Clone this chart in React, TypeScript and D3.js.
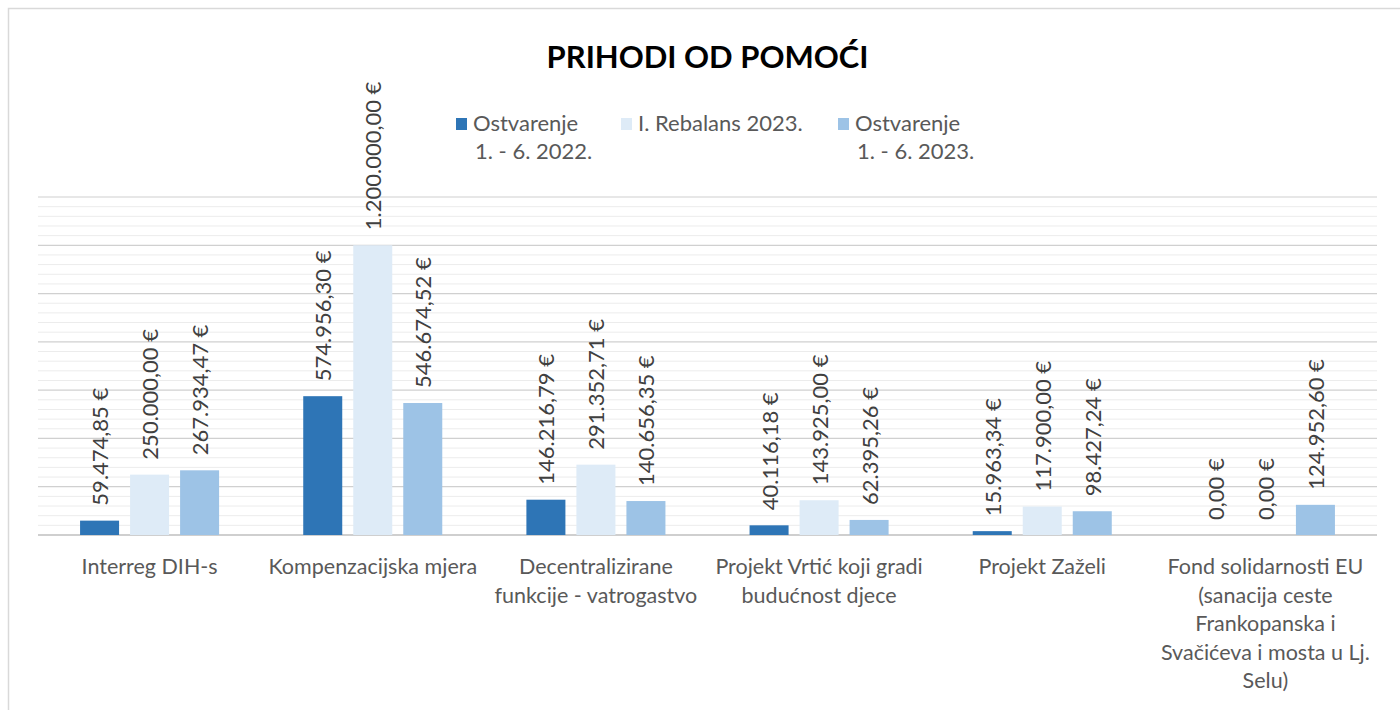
import React from "react";
import * as d3 from "d3";

const categories: string[][] = [
  ["Interreg DIH-s"],
  ["Kompenzacijska mjera"],
  ["Decentralizirane", "funkcije - vatrogastvo"],
  ["Projekt Vrtić koji gradi", "budućnost djece"],
  ["Projekt Zaželi"],
  ["Fond solidarnosti EU", "(sanacija ceste", "Frankopanska i", "Svačićeva i mosta u Lj.", "Selu)"],
];

const seriesNames: string[][] = [
  ["Ostvarenje", "1. - 6. 2022."],
  ["I. Rebalans 2023."],
  ["Ostvarenje", "1. - 6. 2023."],
];

const ostvarenje2022 = [59474.85, 574956.3, 146216.79, 40116.18, 15963.34, 0];
const rebalans2023 = [250000, 1200000, 291352.71, 143925, 117900, 0];
const ostvarenje2023 = [267934.47, 546674.52, 140656.35, 62395.26, 98427.24, 124952.6];

const seriesValues = [ostvarenje2022, rebalans2023, ostvarenje2023];
const colors = ["#2E75B6", "#DEEBF7", "#9DC3E6"];

const majorTicks = [0, 200000, 400000, 600000, 800000, 1000000, 1200000, 1400000];

const W = 1400;
const H = 710;
const FONT = "Lato, 'Open Sans', sans-serif";

const locale = d3.formatLocale({
  decimal: ",",
  thousands: ".",
  grouping: [3],
  currency: ["", " €"],
});
const fmt = (v: number) => locale.format(",.2f")(v) + " €";

export default function App() {
  const left = 38;
  const right = 1377;
  const top = 197;
  const bottom = 535;

  const y = d3.scaleLinear().domain([0, 1400000]).range([bottom, top]);
  const catIdx = categories.map((_, i) => String(i));
  const x0 = d3
    .scaleBand<string>()
    .domain(catIdx)
    .range([left, right])
    .paddingInner(0.377)
    .paddingOuter(0.1885);
  const x1 = d3
    .scaleBand<string>()
    .domain(["0", "1", "2"])
    .range([0, x0.bandwidth()])
    .paddingInner(0.22)
    .paddingOuter(0);

  const minorTicks = d3.range(0, 1400001, 40000).filter((t) => t % 200000 !== 0);

  const legendX = [456, 621, 838];

  return (
    <svg
      width={W}
      height={H}
      style={{ position: "absolute", left: 0, top: 0, background: "#fff" }}
      fontFamily={FONT}
    >
      <rect x={8.5} y={8.5} width={W + 10} height={H + 10} fill="#fff" stroke="#d9d9d9" strokeWidth={1.5} />
      <text x={(left + right) / 2} y={68} textAnchor="middle" fontSize={31} fontWeight="bold" fill="#000">
        PRIHODI OD POMOĆI
      </text>

      {/* legend */}
      {seriesNames.map((lines, i) => (
        <g key={i}>
          <rect x={legendX[i]} y={118} width={11} height={12} fill={colors[i]} />
          {lines.map((l, j) => (
            <text key={j} x={legendX[i] + 17 + j * 2} y={131 + j * 27.5} fontSize={22} fill="#595959">
              {l}
            </text>
          ))}
        </g>
      ))}

      {/* minor grid */}
      {minorTicks.map((t) => (
        <line key={"m" + t} x1={left} x2={right} y1={y(t)} y2={y(t)} stroke="#ececec" strokeWidth={1} />
      ))}
      {/* major grid */}
      {majorTicks.map((t) => (
        <line
          key={"M" + t}
          x1={left}
          x2={right}
          y1={y(t)}
          y2={y(t)}
          stroke={t === 0 ? "#bfbfbf" : "#d0d0d0"}
          strokeWidth={t === 0 ? 1.5 : 1.2}
        />
      ))}

      {/* bars */}
      {seriesValues.map((vals, s) =>
        vals.map((v, c) => {
          const bx = (x0(String(c)) as number) + (x1(String(s)) as number);
          const bw = x1.bandwidth();
          const by = y(v);
          return (
            <g key={s + "-" + c}>
              {v > 0 && <rect x={bx} y={by} width={bw} height={bottom - by} fill={colors[s]} />}
              <text
                transform={`translate(${bx + bw / 2},${by - 15}) rotate(-90)`}
                fontSize={22}
                fill="#404040"
                dominantBaseline="central"
              >
                {fmt(v)}
              </text>
            </g>
          );
        })
      )}

      {/* category labels */}
      {categories.map((lines, c) => {
        const cx = (x0(String(c)) as number) + x0.bandwidth() / 2;
        return (
          <text key={c} textAnchor="middle" fontSize={21.5} fill="#595959">
            {lines.map((l, j) => (
              <tspan key={j} x={cx} y={574 + j * 28.5}>
                {l}
              </tspan>
            ))}
          </text>
        );
      })}
    </svg>
  );
}
